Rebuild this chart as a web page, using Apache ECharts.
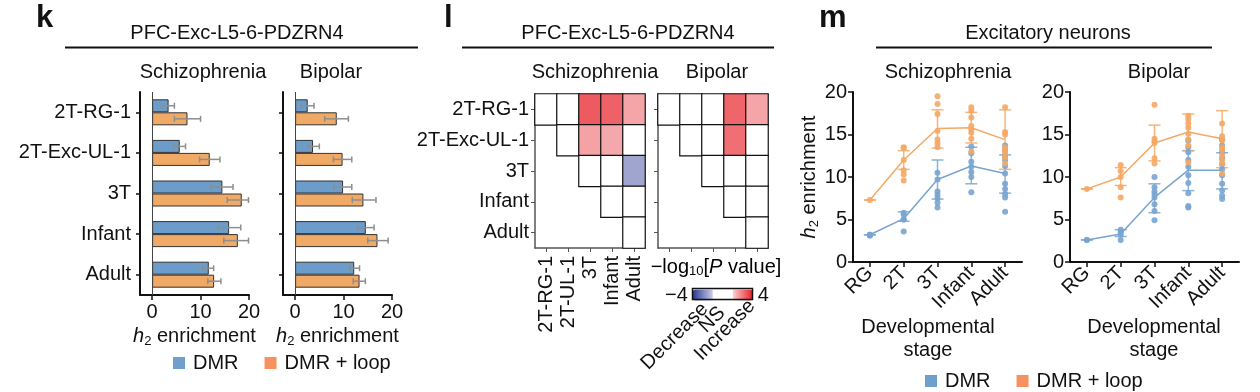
<!DOCTYPE html>
<html><head><meta charset="utf-8">
<script src="https://cdn.jsdelivr.net/npm/echarts@6/dist/echarts.min.js"></script>
<style>html,body{margin:0;padding:0;background:#fff}#c{width:1260px;height:392px}</style>
</head><body><div id="c"></div>
<script>
const FONT = '"Liberation Sans", Arial, Helvetica, sans-serif';
const INK = '#111';

// ---------- Panel k data ----------
const k_categories = ['2T-RG-1', '2T-Exc-UL-1', '3T', 'Infant', 'Adult'];
const k_scz_dmr = [3.4, 5.7, 14.5, 15.9, 11.7];
const k_scz_dmr_err = [[1.9, 4.6], [4.4, 6.9], [12.2, 16.7], [13.6, 18.3], [10.5, 12.7]];
const k_scz_loop = [7.3, 11.9, 18.5, 17.7, 12.8];
const k_scz_loop_err = [[4.6, 10.0], [9.8, 14.0], [15.5, 19.9], [14.8, 19.9], [11.5, 14.2]];
const k_bip_dmr = [2.6, 3.7, 9.9, 14.6, 12.2];
const k_bip_dmr_err = [[1.3, 3.9], [2.6, 5.0], [8.0, 11.7], [12.9, 16.3], [11.3, 13.3]];
const k_bip_loop = [8.6, 9.8, 14.1, 17.0, 13.3];
const k_bip_loop_err = [[6.1, 11.0], [7.9, 11.7], [11.8, 16.7], [15.0, 19.2], [12.0, 14.5]];
const k_ticks = [0, 10, 20];

// ---------- Panel l data (-log10 P, signed) ----------
const l_rows = ['2T-RG-1', '2T-Exc-UL-1', '3T', 'Infant', 'Adult'];
const l_cols = ['2T-RG-1', '2T-UL-1', '3T', 'Infant', 'Adult'];
const l_scz = [
  [0, 0, 3.1, 3.0, 2.0],
  [null, 0, 2.05, 1.95, 0],
  [null, null, 0, 0, -2.05],
  [null, null, null, 0, 0],
  [null, null, null, null, 0]
];
const l_bip = [
  [0, 0, 0, 2.95, 2.0],
  [null, 0, 0, 2.8, 0],
  [null, null, 0, 0, 0],
  [null, null, null, 0, 0],
  [null, null, null, null, 0]
];
const l_range = [-4, 4];

// ---------- Panel m data ----------
const m_stages = ['RG', '2T', '3T', 'Infant', 'Adult'];
const m_scz_dmr_mean = [3.2, 5.1, 9.7, 11.3, 10.4];
const m_scz_dmr_err = [[3.2, 3.2], [4.8, 5.9], [7.4, 12.0], [9.2, 13.5], [8.1, 12.6]];
const m_scz_dmr_pts = [[3.2, 3.2, 3.1], [5.8, 5.6, 5.0, 5.0, 3.6], [10.5, 9.7, 8.3, 7.9, 7.5, 7.0, 6.4],
  [13.6, 12.8, 11.8, 11.2, 10.6, 10.0, 8.2], [13.7, 13.1, 12.4, 12.0, 11.3, 10.4, 9.2, 8.6, 8.0, 7.6, 5.9]];
const m_scz_loop_mean = [7.3, 12.0, 15.7, 15.8, 14.4];
const m_scz_loop_err = [[7.3, 7.3], [10.9, 13.1], [13.4, 17.9], [14.0, 17.6], [10.9, 17.9]];
const m_scz_loop_pts = [[7.3], [13.5, 13.4, 12.0, 10.8, 10.3, 9.6], [19.5, 18.6, 17.4, 15.4, 14.4, 14.0, 13.5],
  [18.2, 17.8, 17.0, 16.0, 15.6, 15.2, 14.5, 13.0], [18.2, 15.3, 15.0, 13.5, 13.2, 12.8, 12.3, 11.6]];
const m_bip_dmr_mean = [2.6, 3.3, 7.6, 10.8, 10.8];
const m_bip_dmr_err = [[2.6, 2.6], [3.0, 3.8], [5.8, 9.2], [8.4, 13.1], [8.6, 12.85]];
const m_bip_dmr_pts = [[2.6, 2.6], [3.8, 3.5, 3.2, 2.6], [10.0, 8.8, 8.3, 8.0, 7.6, 6.8, 6.0, 4.9],
  [14.3, 13.5, 12.9, 12.0, 11.2, 10.2, 9.3, 8.1, 6.6, 6.4], [14.4, 13.7, 12.9, 12.2, 11.5, 10.9, 10.2, 9.2, 8.4, 7.8, 7.4]];
const m_bip_loop_mean = [8.6, 10.0, 14.0, 15.3, 14.5];
const m_bip_loop_err = [[8.6, 8.6], [9.0, 11.1], [11.9, 16.1], [13.1, 17.4], [11.1, 17.8]];
const m_bip_loop_pts = [[8.6], [11.4, 10.7, 10.0, 8.8, 7.6], [18.5, 14.5, 14.2, 14.0, 12.2, 11.6],
  [17.2, 16.8, 16.3, 15.8, 15.1, 14.4, 13.7, 11.7], [16.3, 14.8, 14.3, 13.5, 13.2, 12.6, 12.0, 11.6, 10.4]];

// ---------- styles ----------
const BAR_BLUE = '#6c9cc9', BAR_ORANGE = '#f1a966';
const LEG_BLUE = '#6e9fcd', LEG_ORANGE = '#f5925f';
const PT_BLUE = '#78a4d0', PT_ORANGE = '#f4a864';
const colorStops = [[-4, '#2b3990'], [-1.4, '#c7c9e5'], [-1.3, '#ffffff'], [1.3, '#ffffff'], [1.4, '#f9cdcf'], [4, '#e61e26']];

function hex(c) { return [1, 3, 5].map(i => parseInt(c.slice(i, i + 2), 16)); }
function colorAt(v) {
  for (let i = 0; i < colorStops.length - 1; i++) {
    const [a, ca] = colorStops[i], [b, cb] = colorStops[i + 1];
    if (v >= a && v <= b) {
      const f = (v - a) / (b - a), A = hex(ca), B = hex(cb);
      return 'rgb(' + A.map((x, j) => Math.round(x + (B[j] - x) * f)).join(',') + ')';
    }
  }
  return colorStops[colorStops.length - 1][1];
}
const vmColors = [];
for (let i = 0; i <= 80; i++) vmColors.push(colorAt(l_range[0] + i * 0.1));

const txt = (size, extra) => Object.assign({ fontFamily: FONT, fontSize: size, color: INK }, extra || {});
const h2Rich = {
  h: { fontFamily: FONT, fontSize: 20, fontStyle: 'italic', color: INK },
  s: { fontFamily: FONT, fontSize: 13, color: INK, padding: [9, 0, 0, 0] },
  t: { fontFamily: FONT, fontSize: 20, color: INK }
};

function hErr(offset) {
  return function (params, api) {
    const c = api.value(0), a = api.coord([api.value(1), c]), b = api.coord([api.value(2), c]);
    const y = a[1] + offset, st = { stroke: '#8e8e8e', lineWidth: 1.5 };
    return { type: 'group', children: [
      { type: 'line', shape: { x1: a[0], y1: y, x2: b[0], y2: y }, style: st },
      { type: 'line', shape: { x1: a[0], y1: y - 3, x2: a[0], y2: y + 3 }, style: st },
      { type: 'line', shape: { x1: b[0], y1: y - 3, x2: b[0], y2: y + 3 }, style: st }
    ] };
  };
}
function vErr(color) {
  return function (params, api) {
    const c = api.value(0), a = api.coord([c, api.value(1)]), b = api.coord([c, api.value(2)]);
    const st = { stroke: color, lineWidth: 1.5, opacity: 0.85 }, w = 6;
    return { type: 'group', children: [
      { type: 'line', shape: { x1: a[0], y1: a[1], x2: b[0], y2: b[1] }, style: st },
      { type: 'line', shape: { x1: a[0] - w, y1: a[1], x2: a[0] + w, y2: a[1] }, style: st },
      { type: 'line', shape: { x1: b[0] - w, y1: b[1], x2: b[0] + w, y2: b[1] }, style: st }
    ] };
  };
}
const errData = arr => arr.map((e, i) => [i, e[0], e[1]]);
const ptData = arr => arr.flatMap((vals, i) => vals.map(v => [i, v]));
const heatData = m => { const out = []; m.forEach((row, r) => row.forEach((v, c) => { if (v !== null) out.push([c, r, v]); })); return out; };

// ---------- axes ----------
const grids = [
  { left: 140, top: 92, width: 109, height: 203 },   // k scz
  { left: 283, top: 92, width: 109, height: 203 },   // k bip
  { left: 535, top: 94, width: 110, height: 154 },   // l scz
  { left: 658, top: 94, width: 110, height: 154 },   // l bip
  { left: 853, top: 92, width: 169, height: 170 },   // m scz
  { left: 1070, top: 92, width: 169, height: 170 }   // m bip
];
const blackLine = { show: true, onZero: false, lineStyle: { color: INK, width: 2 } };
function kX(i) {
  return { type: 'value', gridIndex: i, min: -2.5, max: 20, axisLine: blackLine,
    axisTick: { show: true, length: 5, customValues: k_ticks, lineStyle: { color: INK, width: 1.5 } },
    axisLabel: { customValues: k_ticks, margin: 7, ...txt(20) }, splitLine: { show: false },
    name: '{h|h}{s|2}{t| enrichment}', nameLocation: 'middle', nameGap: 27, nameTextStyle: { rich: h2Rich } };
}
function kY(i, showLabels) {
  return { type: 'category', gridIndex: i, data: k_categories, inverse: true, axisLine: blackLine,
    axisTick: { show: true, alignWithLabel: true, length: 4, lineStyle: { color: INK, width: 1.5 } },
    axisLabel: { show: showLabels, margin: 9, ...txt(20) } };
}
const grayLine = { show: true, onZero: false, lineStyle: { color: '#555', width: 1.5 } };
function lX(i, showLabels) {
  return { type: 'category', gridIndex: i, data: l_cols, axisLine: grayLine,
    axisTick: { show: true, alignWithLabel: true, length: 4, lineStyle: { color: '#555' } },
    axisLabel: { show: showLabels, rotate: 90, margin: 8, interval: 0, ...txt(20) }, splitArea: { show: false } };
}
function lY(i, showLabels) {
  return { type: 'category', gridIndex: i, data: l_rows, inverse: true, axisLine: grayLine,
    axisTick: { show: true, alignWithLabel: true, length: 4, lineStyle: { color: '#555' } },
    axisLabel: { show: showLabels, margin: 6, interval: 0, ...txt(20) } };
}
function mX(i) {
  return { type: 'category', gridIndex: i, data: m_stages, axisLine: blackLine,
    axisTick: { show: true, alignWithLabel: true, length: 5, lineStyle: { color: INK, width: 1.5 } },
    axisLabel: { rotate: 45, margin: 8, interval: 0, ...txt(20) } };
}
function mY(i, withName) {
  const ax = { type: 'value', gridIndex: i, min: 0, max: 20, interval: 5, axisLine: blackLine,
    axisTick: { show: true, length: 5, lineStyle: { color: INK, width: 1.5 } },
    axisLabel: { margin: 6, ...txt(20) }, splitLine: { show: false } };
  if (withName) Object.assign(ax, { name: '{h|h}{s|2}{t| enrichment}', nameLocation: 'middle', nameGap: 32, nameTextStyle: { rich: h2Rich } });
  return ax;
}

// ---------- series ----------
const series = [];
function kBars(grid, dmr, loop, dmrErr, loopErr) {
  const base = { type: 'bar', xAxisIndex: grid, yAxisIndex: grid, barWidth: 13, barGap: '0%', silent: true };
  series.push(Object.assign({}, base, { name: 'DMR', data: dmr, itemStyle: { color: BAR_BLUE, borderColor: '#333', borderWidth: 1 },
    markLine: { silent: true, symbol: 'none', label: { show: false }, lineStyle: { color: '#444', width: 1, type: 'solid' }, data: [{ xAxis: 0 }] } }));
  series.push(Object.assign({}, base, { name: 'DMR + loop', data: loop, itemStyle: { color: BAR_ORANGE, borderColor: '#333', borderWidth: 1 } }));
  series.push({ type: 'custom', xAxisIndex: grid, yAxisIndex: grid, silent: true, renderItem: hErr(-6.5), encode: { x: [1, 2], y: 0 }, data: errData(dmrErr), z: 5 });
  series.push({ type: 'custom', xAxisIndex: grid, yAxisIndex: grid, silent: true, renderItem: hErr(6.5), encode: { x: [1, 2], y: 0 }, data: errData(loopErr), z: 5 });
}
kBars(0, k_scz_dmr, k_scz_loop, k_scz_dmr_err, k_scz_loop_err);
kBars(1, k_bip_dmr, k_bip_loop, k_bip_dmr_err, k_bip_loop_err);

const heatIdx = [];
function heat(grid, m) {
  heatIdx.push(series.length);
  series.push({ type: 'heatmap', xAxisIndex: grid, yAxisIndex: grid, data: heatData(m), silent: true,
    itemStyle: { borderColor: '#111', borderWidth: 1.2 }, emphasis: { disabled: true } });
}
heat(2, l_scz);
heat(3, l_bip);

function mGroup(grid, name, color, mean, err, pts) {
  series.push({ type: 'line', xAxisIndex: grid, yAxisIndex: grid, data: mean, symbol: 'none', silent: true,
    lineStyle: { color: color, width: 1.5 }, z: 3 });
  series.push({ type: 'custom', xAxisIndex: grid, yAxisIndex: grid, silent: true, renderItem: vErr(color),
    encode: { x: 0, y: [1, 2] }, data: errData(err), z: 3 });
  series.push({ type: 'scatter', name: name, xAxisIndex: grid, yAxisIndex: grid, data: ptData(pts), symbolSize: 6, silent: true,
    itemStyle: { color: color, opacity: 0.9 }, z: 4 });
}
mGroup(4, 'DMR', PT_BLUE, m_scz_dmr_mean, m_scz_dmr_err, m_scz_dmr_pts);
mGroup(4, 'DMR + loop', PT_ORANGE, m_scz_loop_mean, m_scz_loop_err, m_scz_loop_pts);
mGroup(5, 'DMR', PT_BLUE, m_bip_dmr_mean, m_bip_dmr_err, m_bip_dmr_pts);
mGroup(5, 'DMR + loop', PT_ORANGE, m_bip_loop_mean, m_bip_loop_err, m_bip_loop_pts);

// ---------- graphics (titles, labels) ----------
const G = [];
function T(x, y, text, size, o) {
  G.push(Object.assign({ type: 'text', x: x, y: y, silent: true,
    style: Object.assign({ text: text, font: (o && o.bold ? 'bold ' : '') + size + 'px ' + FONT, fill: INK,
      align: 'center', verticalAlign: 'middle' }, (o && o.style) || {}) }, (o && o.el) || {}));
}
function HL(x1, x2, y) { G.push({ type: 'line', silent: true, shape: { x1: x1, y1: y, x2: x2, y2: y }, style: { stroke: INK, lineWidth: 2 } }); }
// panel letters
T(36, 18, 'k', 31, { bold: true, style: { align: 'left' } });
T(444, 18, 'l', 31, { bold: true, style: { align: 'left' } });
T(819, 18, 'm', 31, { bold: true, style: { align: 'left' } });
// titles
T(237, 33, 'PFC-Exc-L5-6-PDZRN4', 20); HL(65, 418, 47.5);
T(628, 33, 'PFC-Exc-L5-6-PDZRN4', 20); HL(462, 774, 47.5);
T(1048, 33, 'Excitatory neurons', 20); HL(876, 1212, 47.5);
// subtitles
T(203, 72, 'Schizophrenia', 20); T(331, 72, 'Bipolar', 20);
T(595, 72, 'Schizophrenia', 20); T(717, 72, 'Bipolar', 20);
T(948, 72, 'Schizophrenia', 20); T(1159, 72, 'Bipolar', 20);
// l colorbar title and labels
G.push({ type: 'text', x: 716, y: 267, silent: true, style: { text: '{t|−log}{s|10}{t|[}{i|P}{t| value]}', align: 'center', verticalAlign: 'middle',
  rich: { t: h2Rich.t, s: h2Rich.s, i: h2Rich.h } } });
G.push({ type: 'rect', silent: true, z: 100, shape: { x: 692.5, y: 288.5, width: 60, height: 11 }, style: { fill: 'none', stroke: INK, lineWidth: 1.5 } });
T(705, 306, 'Decrease', 20, { style: { align: 'right' }, el: { rotation: Math.PI / 4 } });
T(722, 310, 'NS', 20, { style: { align: 'right' }, el: { rotation: Math.PI / 4 } });
T(752, 303, 'Increase', 20, { style: { align: 'right' }, el: { rotation: Math.PI / 4 } });
// m x-axis titles
T(928, 327, 'Developmental', 20); T(928, 350, 'stage', 20);
T(1154, 327, 'Developmental', 20); T(1154, 350, 'stage', 20);

const legendBase = { icon: 'rect', itemWidth: 12, itemHeight: 12, itemGap: 26, selectedMode: false,
  itemStyle: { borderWidth: 0 },
  textStyle: { fontFamily: FONT, fontSize: 20, color: INK, padding: [0, 0, 0, 3] },
  data: [{ name: 'DMR', itemStyle: { color: LEG_BLUE, borderWidth: 0 } }, { name: 'DMR + loop', itemStyle: { color: LEG_ORANGE, borderWidth: 0 } }] };

const option = {
  animation: false,
  backgroundColor: '#fff',
  textStyle: { fontFamily: FONT },
  grid: grids,
  xAxis: [kX(0), kX(1), lX(2, true), lX(3, false), mX(4), mX(5)],
  yAxis: [kY(0, true), kY(1, false), lY(2, true), lY(3, false), mY(4, true), mY(5, false)],
  visualMap: [{ type: 'continuous', min: l_range[0], max: l_range[1], seriesIndex: heatIdx, orient: 'horizontal',
    left: 650, top: 270, itemWidth: 11, itemHeight: 60, text: ['4', '−4'], textGap: 5, calculable: false, hoverLink: false,
    inRange: { color: vmColors }, textStyle: { fontFamily: FONT, fontSize: 20, color: INK } }],
  legend: [Object.assign({}, legendBase, { left: 168, top: 348 }), Object.assign({}, legendBase, { left: 920, top: 366 })],
  graphic: G,
  series: series
};
const chart = echarts.init(document.getElementById('c'), null, { renderer: 'canvas' });
chart.setOption(option);
</script></body></html>
